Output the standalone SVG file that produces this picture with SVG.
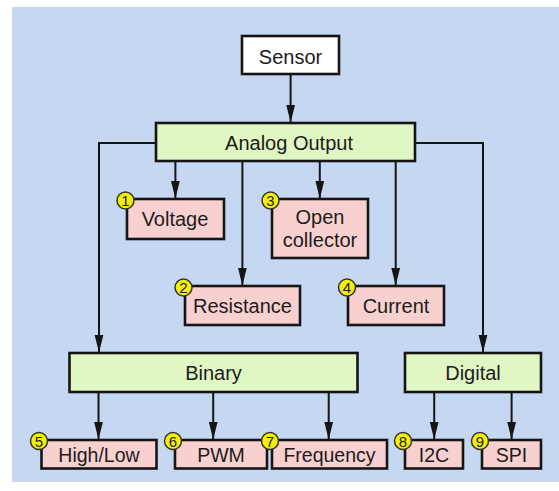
<svg xmlns="http://www.w3.org/2000/svg" width="559" height="491" viewBox="0 0 559 491">
<style>
.box{stroke:#151515;stroke-width:2.6}
.w{fill:#ffffff}
.g{fill:#e0f6c3}
.p{fill:#f8d0cf}
.t{font-family:"Liberation Sans",Arial,sans-serif;font-size:20px;fill:#1c1c1c;text-anchor:middle}
.ts{font-family:"Liberation Sans",Arial,sans-serif;font-size:19.5px;fill:#1c1c1c;text-anchor:middle}
.b{fill:#f3f000;stroke:#333;stroke-width:1.5}
.bn{font-family:"Liberation Sans",Arial,sans-serif;font-size:15px;fill:#222;text-anchor:middle}
.c{fill:none;stroke:#151515;stroke-width:2}
</style>
<defs>
<marker id="ah" markerUnits="userSpaceOnUse" markerWidth="18" markerHeight="10" refX="18" refY="4.5" orient="auto">
<path d="M0,0 L18,4.5 L0,9 z" fill="#151515"/>
</marker>
</defs>
<rect x="0" y="0" width="559" height="491" fill="#ffffff"/>
<rect x="12" y="7" width="547" height="475" fill="#c6d7f2"/>
<g id="connectors">
<path class="c" d="M290.6,74 V122.5" marker-end="url(#ah)"/>
<path class="c" d="M156,143 H99 V352.5" marker-end="url(#ah)"/>
<path class="c" d="M415,143 H483 V352.5" marker-end="url(#ah)"/>
<path class="c" d="M175.4,161 V198.5" marker-end="url(#ah)"/>
<path class="c" d="M242.4,161 V285.5" marker-end="url(#ah)"/>
<path class="c" d="M319.8,161 V198.5" marker-end="url(#ah)"/>
<path class="c" d="M395.7,161 V285.5" marker-end="url(#ah)"/>
<path class="c" d="M98.5,392 V439.5" marker-end="url(#ah)"/>
<path class="c" d="M213.2,392 V439.5" marker-end="url(#ah)"/>
<path class="c" d="M328.7,392 V439.5" marker-end="url(#ah)"/>
<path class="c" d="M434.2,392 V439.5" marker-end="url(#ah)"/>
<path class="c" d="M511.6,392 V439.5" marker-end="url(#ah)"/>
</g>
<g id="sensor"><rect class="box w" x="242" y="36" width="97" height="38"/><text class="t" x="290.5" y="64">Sensor</text></g>
<g id="analog"><rect class="box g" x="156" y="123" width="259" height="38"/><text class="t" x="289" y="150">Analog Output</text></g>
<g id="voltage"><rect class="box p" x="127" y="199" width="97" height="40"/><text class="t" x="175" y="226">Voltage</text><circle class="b" cx="125.5" cy="200.5" r="8.5"/><text class="bn" x="125.5" y="206">1</text></g>
<g id="opencollector"><rect class="box p" x="272" y="199" width="96" height="59"/><text class="t" x="320" y="224">Open</text><text class="t" x="320" y="247">collector</text><circle class="b" cx="270.5" cy="200.5" r="8.5"/><text class="bn" x="270.5" y="206">3</text></g>
<g id="resistance"><rect class="box p" x="185" y="286" width="115" height="39"/><text class="t" x="242.5" y="313">Resistance</text><circle class="b" cx="183.5" cy="287.5" r="8.5"/><text class="bn" x="183.5" y="293">2</text></g>
<g id="current"><rect class="box p" x="348" y="286" width="96" height="39"/><text class="t" x="396" y="313">Current</text><circle class="b" cx="347" cy="287.5" r="8.5"/><text class="bn" x="347" y="293">4</text></g>
<g id="binary"><rect class="box g" x="69.5" y="353" width="288" height="39"/><text class="t" x="213.5" y="380">Binary</text></g>
<g id="digital"><rect class="box g" x="405" y="353" width="136" height="39"/><text class="t" x="473" y="380">Digital</text></g>
<g id="highlow"><rect class="box p" x="41.5" y="440" width="115" height="28.5"/><text class="ts" x="99" y="461.5">High/Low</text><circle class="b" cx="39" cy="441" r="8.5"/><text class="bn" x="39" y="446.5">5</text></g>
<g id="pwm"><rect class="box p" x="175" y="440" width="92" height="28.5"/><text class="ts" x="221" y="461.5">PWM</text><circle class="b" cx="173" cy="441" r="8.5"/><text class="bn" x="173" y="446.5">6</text></g>
<g id="frequency"><rect class="box p" x="272" y="440" width="115" height="28.5"/><text class="ts" x="329.5" y="461.5">Frequency</text><circle class="b" cx="270" cy="441" r="8.5"/><text class="bn" x="270" y="446.5">7</text></g>
<g id="i2c"><rect class="box p" x="405" y="440" width="58" height="28.5"/><text class="ts" x="434" y="461.5">I2C</text><circle class="b" cx="403" cy="441" r="8.5"/><text class="bn" x="403" y="446.5">8</text></g>
<g id="spi"><rect class="box p" x="482" y="440" width="59" height="28.5"/><text class="ts" x="511.5" y="461.5">SPI</text><circle class="b" cx="480" cy="441" r="8.5"/><text class="bn" x="480" y="446.5">9</text></g>
</svg>
